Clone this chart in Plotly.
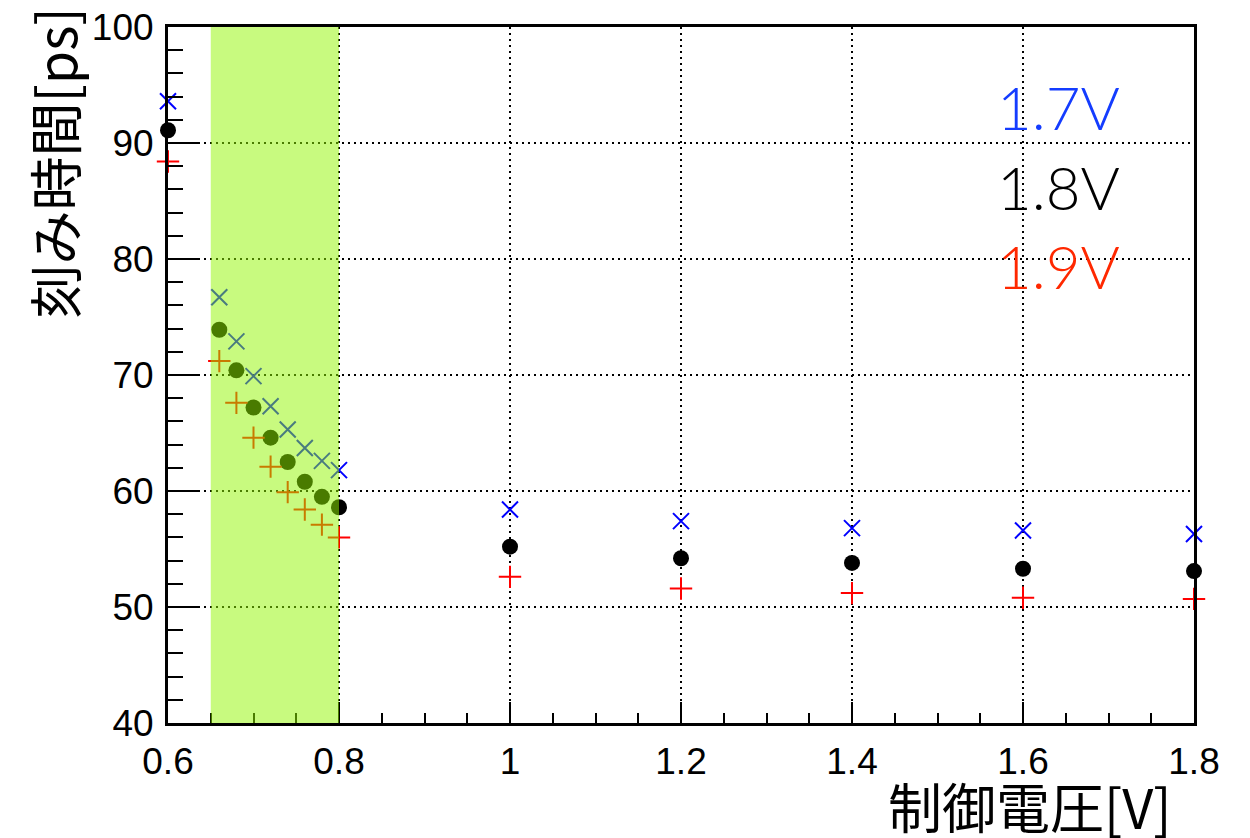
import plotly.graph_objects as go

# Data
x_vals = [0.6, 0.66, 0.68, 0.70, 0.72, 0.74, 0.76, 0.78, 0.80, 1.0, 1.2, 1.4, 1.6, 1.8]
y_17 = [93.6, 76.7, 72.9, 69.9, 67.3, 65.3, 63.7, 62.6, 61.8, 58.4, 57.4, 56.8, 56.6, 56.3]
y_18 = [91.1, 73.9, 70.4, 67.2, 64.6, 62.5, 60.8, 59.5, 58.6, 55.2, 54.2, 53.8, 53.3, 53.1]
y_19 = [88.4, 71.2, 67.6, 64.6, 62.1, 59.9, 58.4, 57.1, 56.0, 52.6, 51.6, 51.2, 50.8, 50.7]
series_names = ["1.7V", "1.8V", "1.9V"]
band = [0.65, 0.80]
x_ticks = [0.6, 0.8, 1.0, 1.2, 1.4, 1.6, 1.8]
x_ticktext = ["0.6", "0.8", "1", "1.2", "1.4", "1.6", "1.8"]
y_ticks = [40, 50, 60, 70, 80, 90, 100]

fig = go.Figure()
fig.add_trace(go.Scatter(x=x_vals, y=y_17, mode="markers", name=series_names[0], cliponaxis=False,
                         marker=dict(symbol="x-thin-open", size=16, color="rgb(0,0,255)",
                                     line=dict(width=2, color="rgb(0,0,255)"))))
fig.add_trace(go.Scatter(x=x_vals, y=y_18, mode="markers", name=series_names[1], cliponaxis=False,
                         marker=dict(symbol="circle", size=16, color="black")))
fig.add_trace(go.Scatter(x=x_vals, y=y_19, mode="markers", name=series_names[2], cliponaxis=False,
                         marker=dict(symbol="cross-thin-open", size=16, color="rgb(255,0,0)",
                                     line=dict(width=2, color="rgb(255,0,0)"))))

# highlighted band (semi-transparent overlay above everything)
fig.add_shape(type="rect", xref="x", yref="y", x0=band[0], x1=band[1], y0=40, y1=100,
              fillcolor="rgba(145,245,0,0.5)", line=dict(width=0), layer="above")

# legend box (white, hides grid)
fig.add_shape(type="rect", xref="x", yref="y", x0=1.51, x1=1.757, y0=76.0, y1=96.7,
              fillcolor="white", line=dict(width=0), layer="below")

leg_colors = ["rgb(20,60,255)", "black", "rgb(255,40,0)"]
leg_y = [107, 187, 266]
for name, col, py in zip(series_names, leg_colors, leg_y):
    fig.add_annotation(text=name, xref="paper", yref="paper",
                       x=(995 - 168) / 1026, y=(723 - py) / 696,
                       xanchor="left", yanchor="middle", showarrow=False,
                       font=dict(family="Lato, Liberation Sans", size=60, color=col, weight=300))

# axis titles
fig.add_annotation(text="刻み時間[ps]", xref="paper", yref="paper",
                   x=(53 - 168) / 1026, y=(723 - 6) / 696, textangle=-90,
                   xanchor="center", yanchor="top", showarrow=False,
                   font=dict(family="Noto Sans CJK JP", size=54, color="black"))
fig.add_annotation(text="制御電圧[V]", xref="paper", yref="paper",
                   x=(1174 - 168) / 1026, y=(723 - 805) / 696,
                   xanchor="right", yanchor="middle", showarrow=False,
                   font=dict(family="Noto Sans CJK JP", size=54, color="black"))

fig.update_layout(
    width=1250, height=838,
    margin=dict(l=168, r=56, t=27, b=115, autoexpand=False),
    paper_bgcolor="white", plot_bgcolor="white",
    showlegend=False,
    font=dict(family="Liberation Sans, Arial", color="black"),
    xaxis=dict(range=[0.6, 1.8], tickvals=x_ticks, ticktext=x_ticktext,
               ticks="inside", ticklen=21, tickwidth=2, tickcolor="black",
               minor=dict(dtick=0.05, tick0=0.6, ticks="inside", ticklen=10,
                          tickwidth=2, tickcolor="black", showgrid=False),
               showline=True, linewidth=3, linecolor="black", mirror=True,
               showgrid=True, gridcolor="black", gridwidth=1.5, griddash="2px,4px",
               zeroline=False, tickfont=dict(size=37, family="Liberation Sans"),
               ticklabelstandoff=4),
    yaxis=dict(range=[40, 100], tickvals=y_ticks,
               ticks="inside", ticklen=30, tickwidth=2, tickcolor="black",
               minor=dict(dtick=2, tick0=40, ticks="inside", ticklen=15,
                          tickwidth=2, tickcolor="black", showgrid=False),
               showline=True, linewidth=3, linecolor="black", mirror=True,
               showgrid=True, gridcolor="black", gridwidth=1.5, griddash="2px,4px",
               zeroline=False, tickfont=dict(size=37, family="Liberation Sans"),
               ticklabelstandoff=4),
)

fig.write_html("out.html", config={"displayModeBar": False},
               post_script="document.body.style.margin='0';")
